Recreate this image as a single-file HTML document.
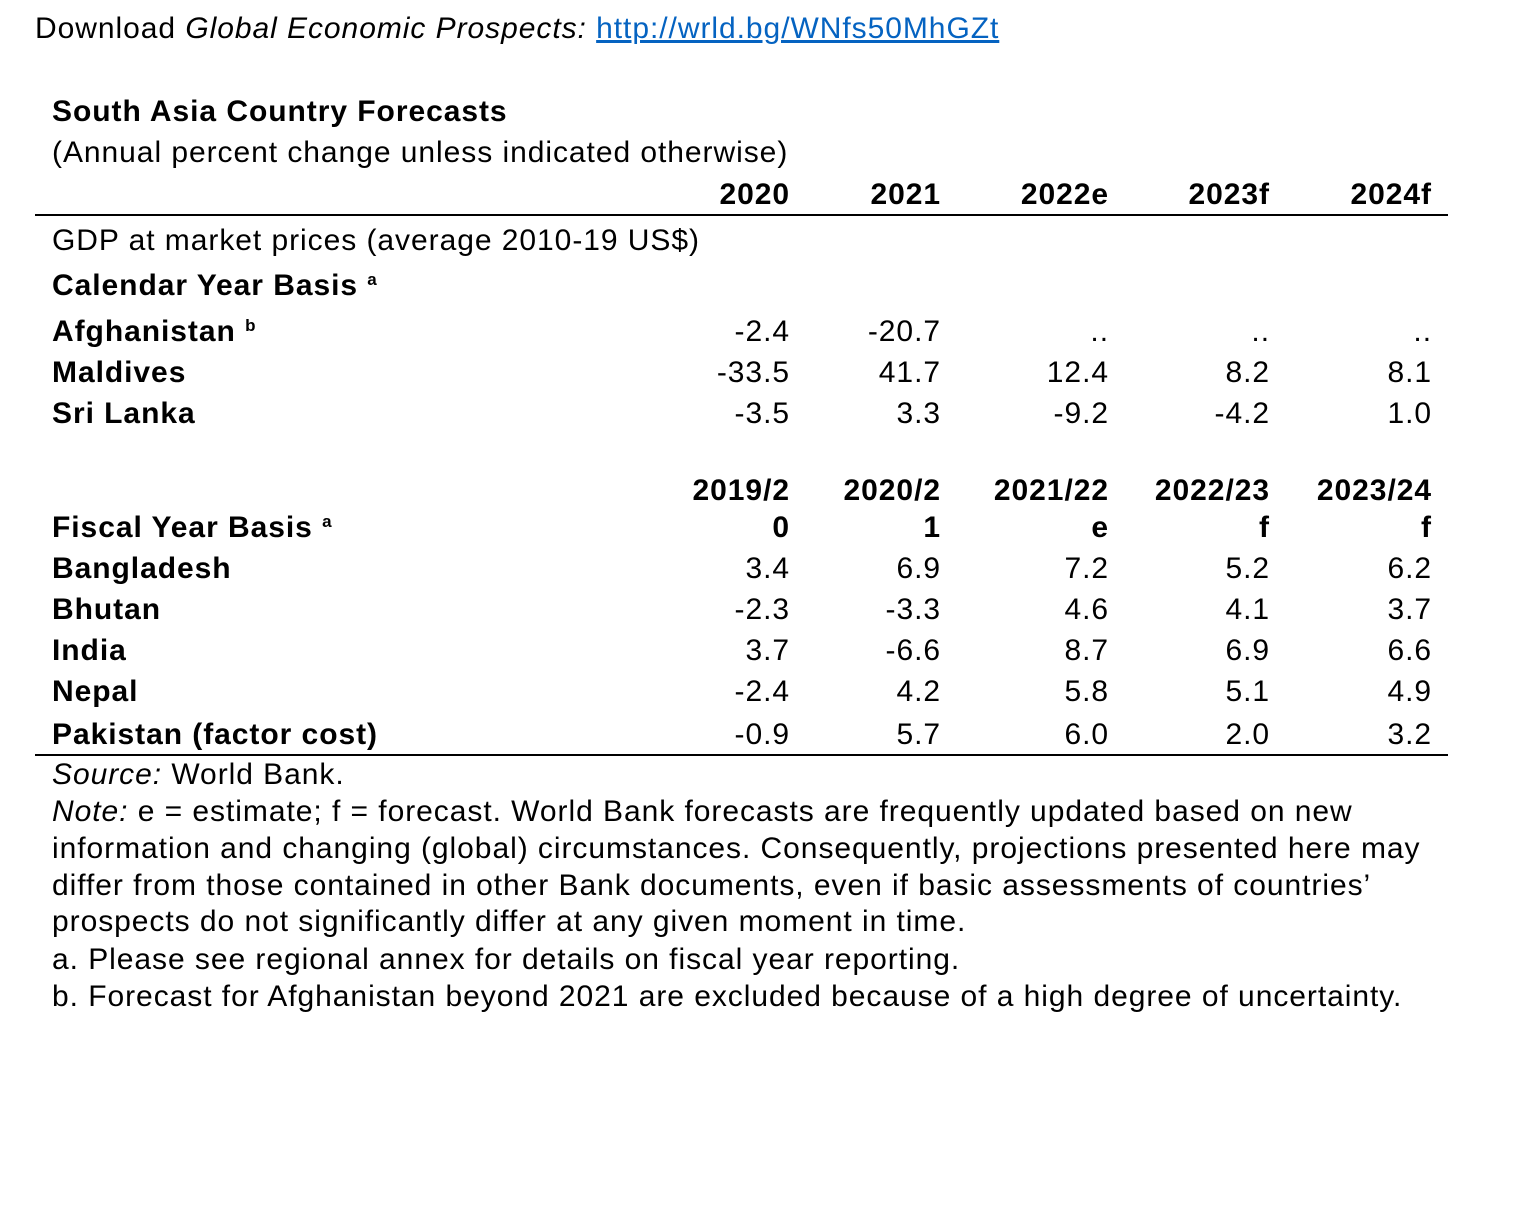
<!DOCTYPE html>
<html><head><meta charset="utf-8"><style>
body{margin:0;width:1536px;height:1206px;background:#fff;position:relative;font-family:"Liberation Sans",Arial,sans-serif;color:#000;overflow:hidden}
.t{position:absolute;font-size:30px;letter-spacing:0.95px;line-height:34px;white-space:nowrap}
.b{font-weight:bold}
.r{text-align:right}
.line{position:absolute;left:35px;width:1413px;height:2px;background:#000}
sup{font-size:17px;vertical-align:10px;line-height:0}
a{color:#0563c1;text-decoration:underline}
</style></head><body>
<div class="t" style="left:35px;top:12px">Download <i>Global Economic Prospects:</i> <a>http://wrld.bg/WNfs50MhGZt</a></div>
<div class="t b" style="left:52px;top:95px">South Asia Country Forecasts</div>
<div class="t" style="left:52px;top:136px">(Annual percent change unless indicated otherwise)</div>
<div class="line" style="top:214px"></div>
<div class="line" style="top:754px"></div>
<div class="t" style="left:52px;top:224px">GDP at market prices (average 2010-19 US$)</div>
<div class="t b" style="left:52px;top:269px">Calendar Year Basis <sup>a</sup></div>
<div class="t b" style="left:52px;top:315px">Afghanistan <sup>b</sup></div>
<div class="t b" style="left:52px;top:356px">Maldives</div>
<div class="t b" style="left:52px;top:397px">Sri Lanka</div>
<div class="t b" style="left:52px;top:511px">Fiscal Year Basis <sup>a</sup></div>
<div class="t b" style="left:52px;top:552px">Bangladesh</div>
<div class="t b" style="left:52px;top:593px">Bhutan</div>
<div class="t b" style="left:52px;top:634px">India</div>
<div class="t b" style="left:52px;top:675px">Nepal</div>
<div class="t b" style="left:52px;top:718px">Pakistan (factor cost)</div>
<div id="cols"></div>
<div class="t" style="left:52px;top:758px"><i>Source:</i> World Bank.</div>
<div class="t" style="left:52px;top:795px"><i>Note:</i> e = estimate; f = forecast. World Bank forecasts are frequently updated based on new</div>
<div class="t" style="left:52px;top:832px">information and changing (global) circumstances. Consequently, projections presented here may</div>
<div class="t" style="left:52px;top:869px">differ from those contained in other Bank documents, even if basic assessments of countries’</div>
<div class="t" style="left:52px;top:905px">prospects do not significantly differ at any given moment in time.</div>
<div class="t" style="left:52px;top:943px">a. Please see regional annex for details on fiscal year reporting.</div>
<div class="t" style="left:52px;top:980px">b. Forecast for Afghanistan beyond 2021 are excluded because of a high degree of uncertainty.</div>
<script>
var rights=[790,941,1109,1270,1432];
var rows=[
[178,1,["2020","2021","2022e","2023f","2024f"]],
[315,0,["-2.4","-20.7","..","..",".."]],
[356,0,["-33.5","41.7","12.4","8.2","8.1"]],
[397,0,["-3.5","3.3","-9.2","-4.2","1.0"]],
[474,1,["2019/2","2020/2","2021/22","2022/23","2023/24"]],
[511,1,["0","1","e","f","f"]],
[552,0,["3.4","6.9","7.2","5.2","6.2"]],
[593,0,["-2.3","-3.3","4.6","4.1","3.7"]],
[634,0,["3.7","-6.6","8.7","6.9","6.6"]],
[675,0,["-2.4","4.2","5.8","5.1","4.9"]],
[718,0,["-0.9","5.7","6.0","2.0","3.2"]]];
var h="";
rows.forEach(function(r){r[2].forEach(function(v,i){
h+='<div class="t r'+(r[1]?' b':'')+'" style="left:'+(rights[i]-200)+'px;width:200px;top:'+r[0]+'px">'+v+'</div>';});});
document.getElementById("cols").innerHTML=h;
</script>
</body></html>
